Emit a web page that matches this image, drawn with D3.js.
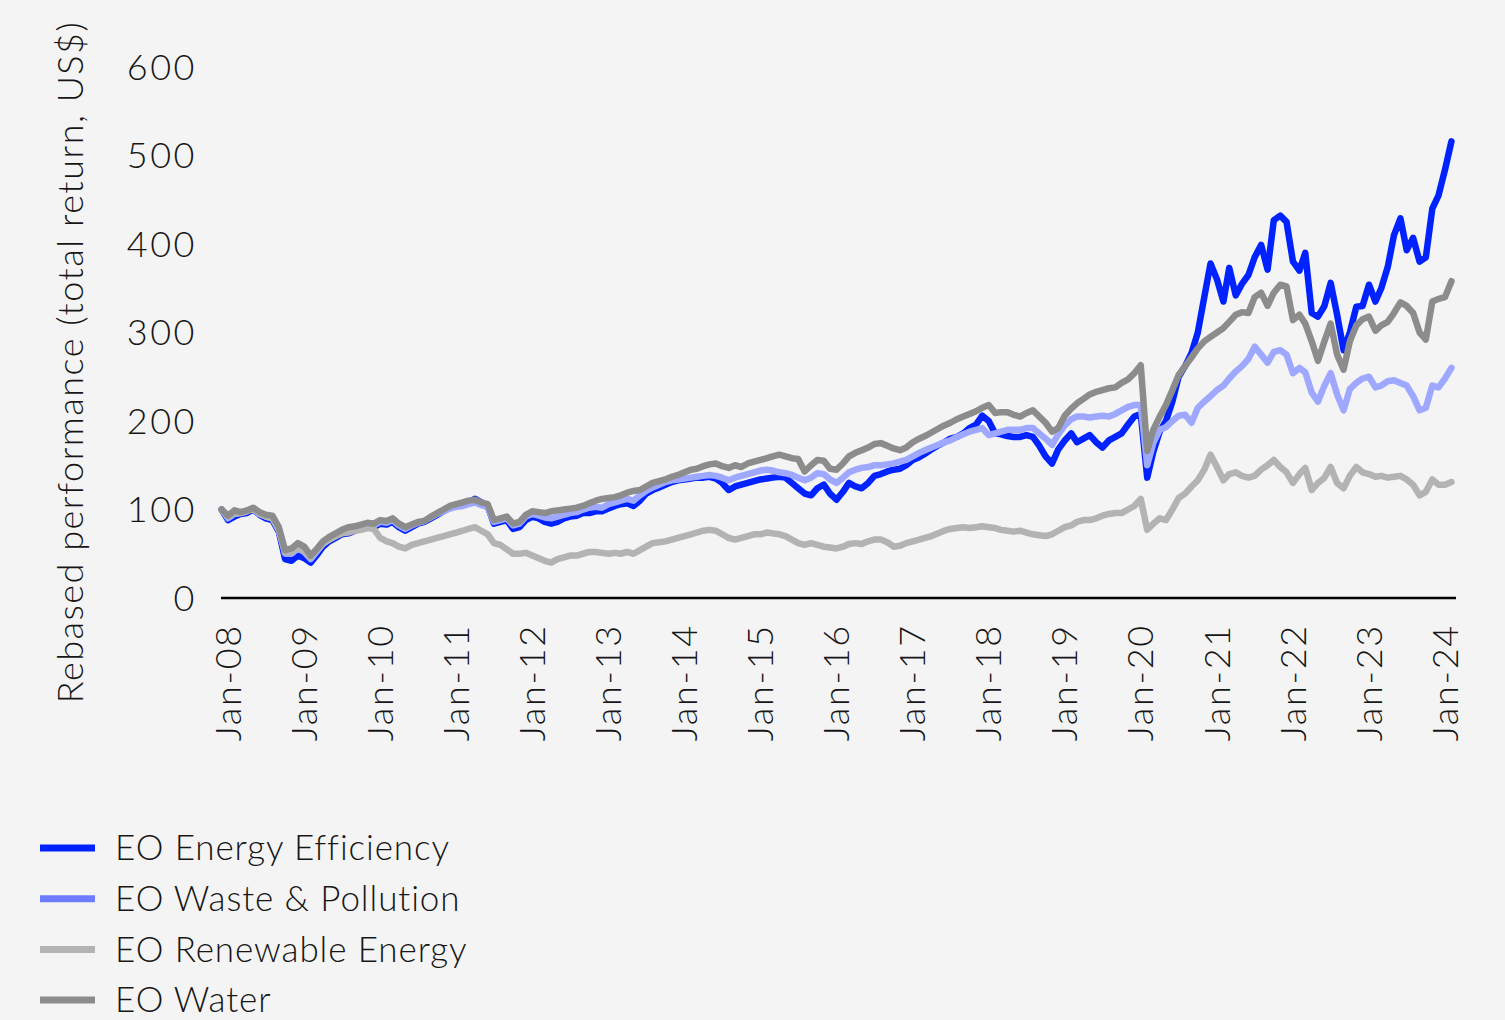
<!DOCTYPE html>
<html>
<head>
<meta charset="utf-8">
<script src="https://cdn.jsdelivr.net/npm/d3@7"></script>
<style>
  html, body { margin: 0; padding: 0; background: #f4f4f4; }
  svg { display: block; font-family: Lato, "Open Sans", sans-serif; font-weight: 300; }
  text { fill: #161616; }
</style>
</head>
<body>
<svg width="1505" height="1020"></svg>
<script>
// monthly readings, first point Dec 2007
var startMonth = new Date(2007, 11, 1);

var energyEfficiency = [100,88,92,95,96,100,94,90,88,75,44,42,48,45,40,48,58,64,68,72,73,76,78,80,80,84,83,86,80,76,
  80,84,86,90,94,98,102,104,106,108,112,108,104,84,86,88,78,80,88,92,90,86,84,86,90,92,93,96,96,98,
  98,101,104,106,107,104,110,118,122,125,128,131,133,134,135,136,136,137,135,130,122,126,128,130,132,134,135,136,137,136,
  130,124,118,116,124,128,118,111,120,130,126,124,130,138,140,143,145,146,150,156,159,163,168,172,176,180,182,186,192,196,
  206,200,186,185,183,182,182,184,182,172,160,152,168,178,186,176,180,184,176,170,178,182,186,196,205,208,136,165,188,200,
  222,250,262,277,300,340,378,360,335,373,342,355,365,385,399,371,427,432,425,380,370,390,322,318,330,356,320,280,300,329,
  330,354,335,350,374,410,429,393,407,380,385,440,455,484,516];

var wastePollution = [100,90,95,96,98,101,95,92,90,77,50,50,56,52,44,52,61,66,70,74,76,78,80,82,82,86,85,88,82,78,
  82,85,87,91,95,98,101,103,104,106,108,105,103,86,88,90,82,84,92,95,93,91,90,92,94,96,97,100,102,103,
  102,106,108,110,112,110,116,121,125,128,131,133,134,135,136,137,138,139,138,136,133,136,138,140,142,144,145,144,142,141,
  139,136,133,136,141,140,134,130,136,142,145,147,148,150,150,151,152,154,156,160,164,167,170,173,176,178,182,185,188,190,
  192,184,186,188,190,190,190,192,192,186,180,173,185,195,202,205,205,204,205,206,205,208,212,216,218,218,150,175,190,193,
  200,206,207,198,215,222,228,235,240,248,256,262,270,284,275,266,278,280,275,254,260,255,232,222,240,254,230,212,236,243,
  248,250,238,240,245,246,243,240,228,212,215,240,238,248,260];

var renewableEnergy = [100,92,96,96,98,101,95,92,90,77,52,52,57,53,46,54,62,66,70,73,74,76,77,79,78,68,64,62,58,56,
  60,62,64,66,68,70,72,74,76,78,80,76,72,62,60,55,50,50,51,48,45,42,40,44,46,48,48,50,52,52,
  51,50,51,50,52,50,54,58,62,63,64,66,68,70,72,74,76,77,76,72,68,66,68,70,72,72,74,73,72,70,
  66,62,60,62,60,58,57,56,58,61,62,61,64,66,66,63,58,59,62,64,66,68,70,73,76,78,79,80,79,80,
  81,80,79,77,76,75,76,74,72,71,70,72,76,80,82,86,88,88,90,93,95,96,96,100,104,112,77,84,90,88,
  100,113,118,126,133,145,162,148,133,140,142,138,136,138,145,150,156,148,142,130,140,147,122,130,136,148,130,124,138,148,
  142,140,137,138,136,137,138,134,128,116,120,134,128,128,131];

var water = [100,93,99,97,99,102,97,94,93,80,54,56,62,58,48,55,64,69,73,77,80,81,83,85,84,88,87,90,84,80,
  83,86,87,92,96,100,104,106,108,110,111,108,106,88,90,92,84,86,94,98,97,96,98,99,100,101,102,104,107,110,
  112,113,114,116,119,121,122,126,130,132,134,137,139,142,145,146,149,151,152,149,147,150,148,152,154,156,158,160,162,160,
  158,157,143,150,156,155,146,145,152,160,164,167,170,174,175,172,169,167,170,176,180,183,187,191,195,198,202,205,208,211,
  215,218,209,210,210,207,205,209,212,205,198,188,192,206,214,220,225,230,233,235,237,238,243,247,254,263,166,190,205,218,
  235,252,262,272,282,290,295,300,305,312,320,323,322,340,345,330,345,354,352,314,320,310,290,268,290,310,275,258,290,308,
  315,318,302,308,312,322,334,330,322,300,292,335,338,340,358];

var yTicks = [0, 100, 200, 300, 400, 500, 600];
var xTickYears = d3.range(2008, 2025);

var seriesNames = ['EO Energy Efficiency', 'EO Waste & Pollution', 'EO Renewable Energy', 'EO Water'];
var lineColors = ['#0022ff', '#9ea8ff', '#b3b3b3', '#8c8c8c'];
var legendColors = ['#0022ff', '#6e7cff', '#b3b3b3', '#8c8c8c'];

var svg = d3.select('svg');

var x = d3.scaleTime()
    .domain([new Date(2008, 0, 1), new Date(2024, 0, 1)])
    .range([228, 1445]);
var y = d3.scaleLinear()
    .domain([0, 600])
    .range([598, 67]);

function toPoints(values) {
    return values.map(function (v, i) {
        return { date: d3.timeMonth.offset(startMonth, i), value: v };
    });
}

// drawing order: water ends up on top
var series = [
    { name: seriesNames[0], color: lineColors[0], points: toPoints(energyEfficiency) },
    { name: seriesNames[1], color: lineColors[1], points: toPoints(wastePollution) },
    { name: seriesNames[2], color: lineColors[2], points: toPoints(renewableEnergy) },
    { name: seriesNames[3], color: lineColors[3], points: toPoints(water) }
];

var line = d3.line()
    .x(function (d) { return x(d.date); })
    .y(function (d) { return y(d.value); });

svg.selectAll('path.series')
    .data(series)
    .enter()
    .append('path')
    .attr('class', 'series')
    .attr('d', function (d) { return line(d.points); })
    .attr('fill', 'none')
    .attr('stroke', function (d) { return d.color; })
    .attr('stroke-width', 6.5)
    .attr('stroke-linejoin', 'round')
    .attr('stroke-linecap', 'round');

// x axis baseline
svg.append('line')
    .attr('x1', 221).attr('x2', 1456)
    .attr('y1', y(0)).attr('y2', y(0))
    .attr('stroke', '#000')
    .attr('stroke-width', 2.5);

// y tick labels
svg.selectAll('text.ytick')
    .data(yTicks)
    .enter()
    .append('text')
    .attr('class', 'ytick')
    .attr('x', 197)
    .attr('y', function (d) { return y(d); })
    .attr('dy', '0.35em')
    .attr('text-anchor', 'end')
    .style('font-size', '36px')
    .style('letter-spacing', '2.5px')
    .text(function (d) { return d; });

// x tick labels, rotated
var fmt = d3.timeFormat('%b-%y');
svg.selectAll('text.xtick')
    .data(xTickYears)
    .enter()
    .append('text')
    .attr('class', 'xtick')
    .attr('transform', function (d) {
        return 'translate(' + x(new Date(d, 0, 1)) + ',624) rotate(-90)';
    })
    .attr('dy', '0.35em')
    .attr('text-anchor', 'end')
    .style('font-size', '36px')
    .style('letter-spacing', '1.8px')
    .text(function (d) { return fmt(new Date(d, 0, 1)); });

// y axis title
svg.append('text')
    .attr('transform', 'translate(70,362) rotate(-90)')
    .attr('dy', '0.35em')
    .attr('text-anchor', 'middle')
    .style('font-size', '36px')
    .style('letter-spacing', '1.5px')
    .text('Rebased performance (total return, US$)');

// legend
var legend = svg.selectAll('g.legend')
    .data(seriesNames)
    .enter()
    .append('g')
    .attr('class', 'legend')
    .attr('transform', function (d, i) { return 'translate(40,' + (848 + i * 50.7) + ')'; });

legend.append('line')
    .attr('x1', 0).attr('x2', 55)
    .attr('stroke', function (d, i) { return legendColors[i]; })
    .attr('stroke-width', 7);

legend.append('text')
    .attr('x', 75)
    .attr('dy', '0.35em')
    .style('font-size', '35px')
    .style('letter-spacing', '0.9px')
    .text(function (d) { return d; });
</script>
</body>
</html>
